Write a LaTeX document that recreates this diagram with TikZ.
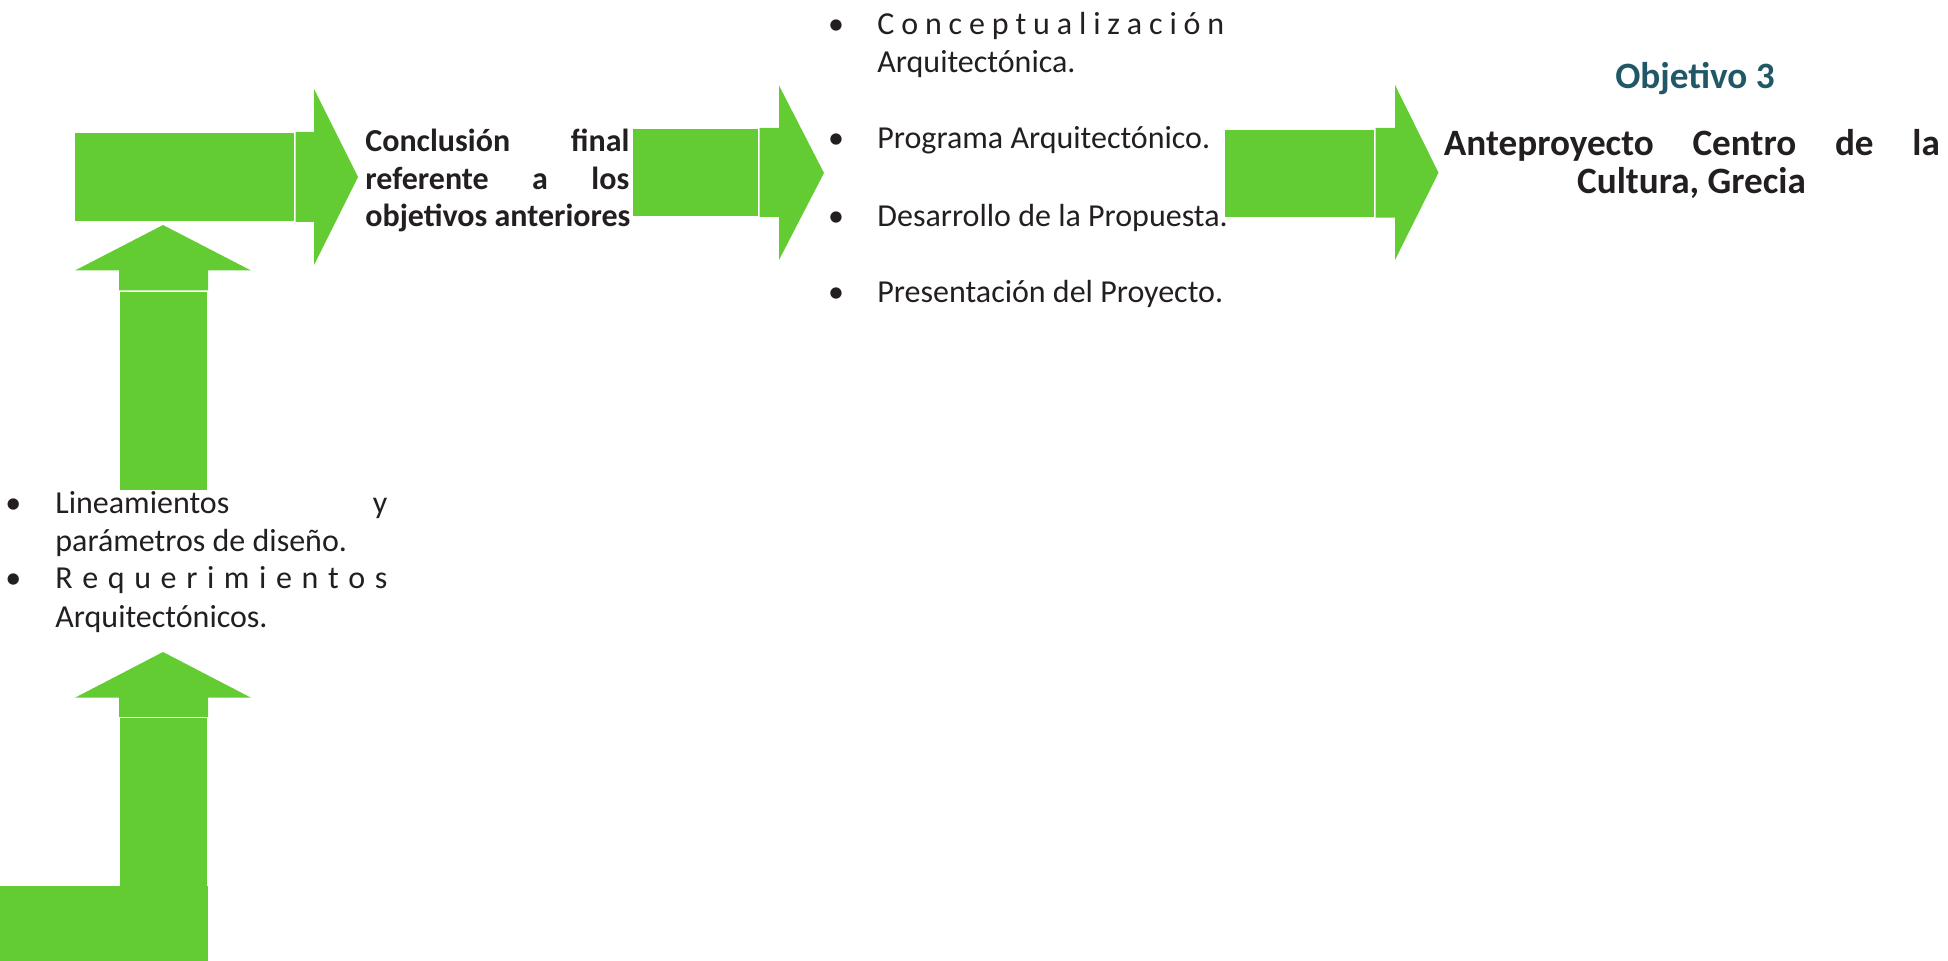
\documentclass[tikz,border=0pt]{standalone}
\usepackage{fontspec}
\setmainfont{Carlito}
\usetikzlibrary{positioning}

\definecolor{verde}{RGB}{99,204,51}
\definecolor{tinta}{RGB}{35,31,32}
\definecolor{azulobj}{RGB}{33,88,104}

\tikzset{
  bloque/.style={fill=verde, draw=none},
  linea/.style={anchor=base west, inner sep=0pt, text=tinta, font=\fontsize{16}{19}\selectfont},
  lineab/.style={linea, font=\fontsize{16}{19}\selectfont\bfseries},
  titulo/.style={linea, font=\fontsize{18.6}{22}\selectfont\bfseries},
  vineta/.style={linea, anchor=base}
}

\begin{document}
\begin{tikzpicture}[x=0.5pt,y=-0.5pt]
\useasboundingbox (0,0) rectangle (1948,961);

% flechas horizontales
\fill[bloque] (74.5,133) rectangle (294,221);
\fill[bloque] (295.5,132) -- (314,132) -- (314,89) -- (358,177) -- (314,265) -- (314,222) -- (295.5,222) -- cycle;

\fill[bloque] (633,129) rectangle (758,216);
\fill[bloque] (759.5,128) -- (779,128) -- (779,85.5) -- (824,173) -- (779,260) -- (779,217) -- (759.5,217) -- cycle;

\fill[bloque] (1225,130) rectangle (1374,216.7);
\fill[bloque] (1375.5,128) -- (1395,128) -- (1395,85) -- (1438.5,172.7) -- (1395,260) -- (1395,217.7) -- (1375.5,217.7) -- cycle;

% flechas verticales
\fill[bloque] (119,290.5) -- (119,270.5) -- (75,270.5) -- (163,225) -- (251,270.5) -- (208,270.5) -- (208,290.5) -- cycle;
\fill[bloque] (120,292) rectangle (207,490);

\fill[bloque] (119,717) -- (119,697.7) -- (75,697.7) -- (163,652) -- (251,697.7) -- (208,697.7) -- (208,717) -- cycle;
\fill[bloque] (120,717.5) rectangle (207,886);
\fill[bloque] (0,886) rectangle (208,961);

% conclusion
\node[lineab] (concl1) at (365,151.7) {\makebox[132pt][s]{Conclusión\hfill final}};
\node[lineab] (concl2) at (365,189.3) {\makebox[132pt][s]{referente\hfill a\hfill los}};
\node[lineab] (concl3) at (365,226.7) {objetivos anteriores};

% lista de la propuesta
\node[vineta] (v1) at (836,35) {•};
\node[linea] (conc1) at (877,35) {\makebox[173.5pt][s]{C\hfill o\hfill n\hfill c\hfill e\hfill p\hfill t\hfill u\hfill a\hfill l\hfill i\hfill z\hfill a\hfill c\hfill i\hfill ó\hfill n}};
\node[linea] (conc2) at (877,72.7) {Arquitectónica.};
\node[vineta] (v2) at (836,149) {•};
\node[linea] (prog) at (877,149) {Programa Arquitectónico.};
\node[vineta] (v3) at (836,226.7) {•};
\node[linea] (desa) at (877,226.7) {Desarrollo de la Propuesta.};
\node[vineta] (v4) at (836,303) {•};
\node[linea] (pres) at (877,303) {Presentación del Proyecto.};

% lineamientos
\node[vineta] (v5) at (13.3,514) {•};
\node[linea] (lin1) at (55,514) {\makebox[166pt][s]{Lineamientos\hfill y}};
\node[linea] (lin2) at (55,551.7) {parámetros de diseño.};
\node[vineta] (v6) at (13.3,589) {•};
\node[linea] (req1) at (55,589) {\makebox[166pt][s]{R\hfill e\hfill q\hfill u\hfill e\hfill r\hfill i\hfill m\hfill i\hfill e\hfill n\hfill t\hfill o\hfill s}};
\node[linea] (req2) at (55,627.7) {Arquitectónicos.};

% objetivo
\node[titulo, anchor=base, text=azulobj] (obj) at (1695,89) {Objetivo 3};
\node[titulo] (ante1) at (1443.5,155.7) {\makebox[248pt][s]{Anteproyecto\hfill Centro\hfill de\hfill la}};
\node[titulo, anchor=base] (ante2) at (1691.5,193.3) {Cultura, Grecia};

\end{tikzpicture}
\end{document}
